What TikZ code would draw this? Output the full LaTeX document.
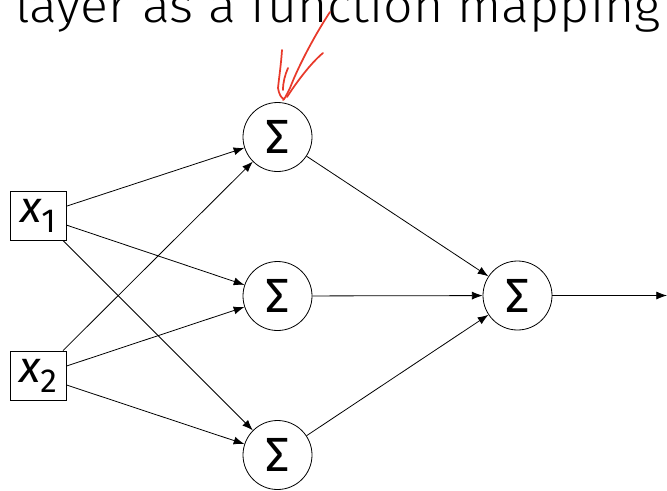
\documentclass[tikz,border=0pt]{standalone}
\usepackage{fontspec}
\setmainfont{Fira Sans}
\newfontfamily\titlefont{Fira Sans}[UprightFont={* Light}]
\usetikzlibrary{arrows.meta}
\definecolor{pen}{HTML}{E8392A}
\tikzset{
  sumnode/.style={draw, circle, line width=0.6pt, minimum size=51.75pt, inner sep=0pt, font=\fontsize{36}{43}\selectfont},
  inbox/.style={draw, rectangle, line width=0.6pt, minimum width=42pt, minimum height=36.75pt, inner sep=0pt, font=\fontsize{33}{40}\selectfont},
  conn/.style={line width=0.6pt, -{Latex[length=8pt,width=6pt]}},
  scribble/.style={draw=pen, line width=1.3pt, line cap=round, line join=round},
}
\newcommand{\xsub}[1]{\itshape x\upshape\raisebox{-7.5pt}{\fontsize{25}{30}\selectfont #1}}
\begin{document}
\begin{tikzpicture}[x=0.75pt, y=-0.75pt]
\useasboundingbox (0,0) rectangle (667,490);
\node[anchor=base west, inner sep=0pt, font=\titlefont\fontsize{36}{43}\selectfont] (title) at (15,22) {\scalebox{1.08}[1]{layer as a function mapping}};
\node[inbox] (x1) at (38,215.5) {\xsub{1}};
\node[inbox] (x2) at (38,375.5) {\xsub{2}};
\node[sumnode] (s1) at (277.5,137) {\char"03A3};
\node[sumnode] (s2) at (277.5,296) {\char"03A3};
\node[sumnode] (s3) at (277.5,455) {\char"03A3};
\node[sumnode] (out) at (517.5,295.5) {\char"03A3};
\coordinate (end) at (667,295.5);
\foreach \a in {x1,x2}{\foreach \b in {s1,s2,s3}{\draw[conn] (\a) -- (\b);}}
\foreach \b in {s1,s2,s3}{\draw[conn] (\b) -- (out);}
\draw[conn] (out) -- (end);
% red hand-drawn arrow
\draw[scribble] (330,12) .. controls (318,30) and (300,62) .. (290,88) .. controls (286,96) and (284,100) .. (283,100);
\draw[scribble] (282,50) .. controls (281,65) and (279,78) .. (278,88) .. controls (279,94) and (281,98) .. (284,99);
\draw[scribble] (323,53) .. controls (312,62) and (298,80) .. (287,97);
\draw[scribble] (288,68) .. controls (285,75) and (283,82) .. (283,90);
\end{tikzpicture}
\end{document}
